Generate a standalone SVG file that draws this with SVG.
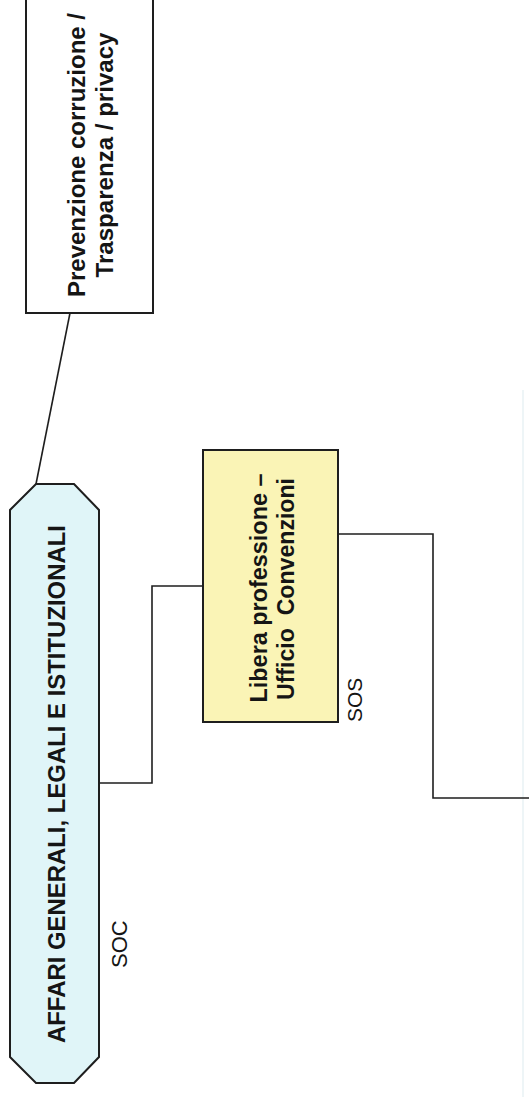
<svg xmlns="http://www.w3.org/2000/svg" width="529" height="1097" viewBox="0 0 529 1097">
  <style>
    .box { stroke: #1e1e1e; stroke-width: 2; }
    .conn { fill: none; stroke: #1e1e1e; stroke-width: 1.6; }
    .lbl { font-family: "Liberation Sans", Arial, sans-serif; font-weight: bold; font-size: 24px; fill: #151515; text-anchor: middle; }
    .tag { font-family: "Liberation Sans", Arial, sans-serif; font-size: 22px; fill: #151515; }
  </style>
  <rect width="529" height="1097" fill="#ffffff"/>

  <!-- partially visible edge at the right border -->
  <line x1="523" y1="390" x2="523" y2="1097" stroke="#e9f2f5" stroke-width="1.5"/>

  <g id="connectors">
    <line class="conn" x1="70" y1="313" x2="36" y2="484"/>
    <polyline class="conn" points="99,783 152,783 152,586 203,586"/>
    <polyline class="conn" points="338,534 433,534 433,798 529,798"/>
  </g>

  <g id="prevenzione">
    <rect class="box" x="26" y="-3" width="127" height="316" fill="#ffffff"/>
    <text class="lbl" transform="translate(85,155) rotate(-90)" textLength="284" lengthAdjust="spacingAndGlyphs">Prevenzione corruzione /</text>
    <text class="lbl" transform="translate(113,155) rotate(-90)" textLength="245" lengthAdjust="spacingAndGlyphs">Trasparenza / privacy</text>
  </g>

  <g id="affari-generali">
    <polygon class="box" points="36,484 74,484 99,510 99,1057 74,1083 36,1083 10,1057 10,510" fill="#e0f5f8"/>
    <text class="lbl" transform="translate(65,784) rotate(-90)" textLength="518" lengthAdjust="spacingAndGlyphs">AFFARI GENERALI, LEGALI E ISTITUZIONALI</text>
    <text class="tag" transform="translate(127,968) rotate(-90)">SOC</text>
  </g>

  <g id="libera-professione">
    <rect class="box" x="203" y="450" width="135" height="272" fill="#faf4b6"/>
    <text class="lbl" transform="translate(267,588) rotate(-90)" textLength="229" lengthAdjust="spacingAndGlyphs">Libera professione –</text>
    <text class="lbl" transform="translate(294,589) rotate(-90)" textLength="222" lengthAdjust="spacingAndGlyphs" style="white-space:pre">Ufficio  Convenzioni</text>
    <text class="tag" transform="translate(362,722) rotate(-90)" style="font-size:21px">SOS</text>
  </g>
</svg>
